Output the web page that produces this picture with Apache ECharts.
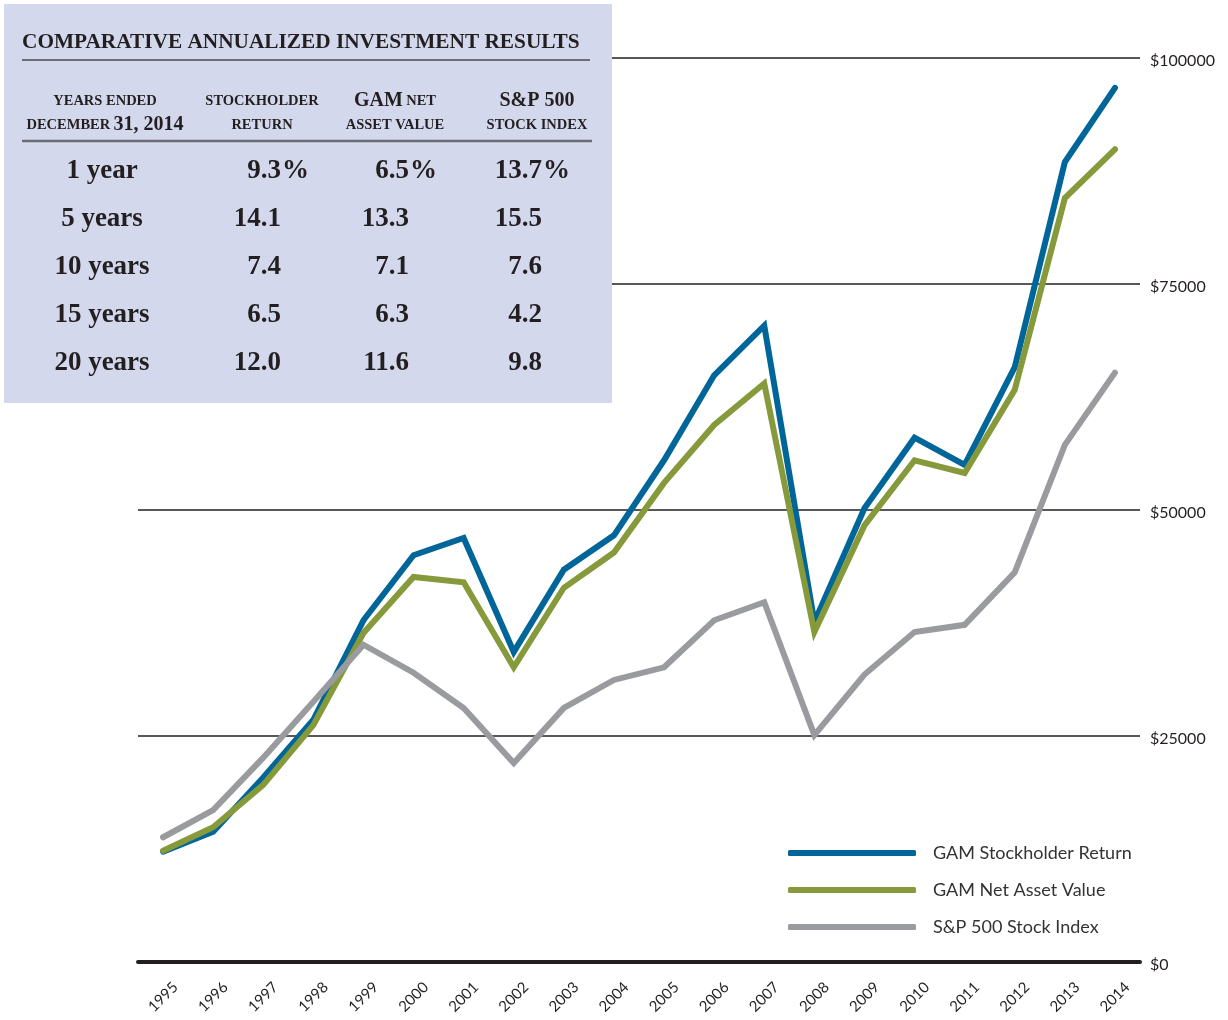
<!DOCTYPE html>
<html>
<head>
<meta charset="utf-8">
<script src="https://cdn.jsdelivr.net/npm/echarts@6/dist/echarts.min.js"></script>
<style>
  html, body { margin: 0; padding: 0; background: #fff; }
  #chart { width: 1228px; height: 1020px; }
</style>
</head>
<body>
<div id="chart"></div>
<script>
// 年份
var years = ['1995', '1996', '1997', '1998', '1999', '2000', '2001', '2002', '2003', '2004',
  '2005', '2006', '2007', '2008', '2009', '2010', '2011', '2012', '2013', '2014']
// GAM Stockholder Return
var stockholder = [12200, 14400, 20400, 26800, 37800, 45000, 46900, 34300, 43400, 47200,
  55500, 64900, 70400, 37600, 50200, 58000, 55000, 65800, 88500, 96700]
// GAM Net Asset Value
var netAsset = [12300, 14900, 19600, 26200, 36400, 42600, 42000, 32600, 41400, 45300,
  53000, 59400, 64000, 36500, 48300, 55500, 54100, 63300, 84500, 89900]
// S&P 500
var spIndex = [13800, 16800, 22600, 28800, 35100, 32000, 28100, 22000, 28100, 31200,
  32600, 37800, 39800, 25100, 31800, 36500, 37300, 43100, 57200, 65200]
var seriesNames = ['GAM Stockholder Return', 'GAM Net Asset Value', 'S&P 500 Stock Index']

// 表格
var tableTitle = 'COMPARATIVE ANNUALIZED INVESTMENT RESULTS'
var headerTop = ['{s|YEARS ENDED}', '{s|STOCKHOLDER}', '{b|GAM} {s|NET}', '{b|S&P 500}']
var headerBottom = ['{s|DECEMBER} {b|31, 2014}', '{s|RETURN}', '{s|ASSET VALUE}', '{s|STOCK INDEX}']
var periods = ['1 year', '5 years', '10 years', '15 years', '20 years']
var stockholderRet = [9.3, 14.1, 7.4, 6.5, 12.0]
var navRet = [6.5, 13.3, 7.1, 6.3, 11.6]
var spRet = [13.7, 15.5, 7.6, 4.2, 9.8]

var myChart = echarts.init(document.getElementById('chart'))

var serif = '"Liberation Serif", "DejaVu Serif", serif'
var sans = 'Lato, "Open Sans", sans-serif'
var headerCx = [105, 262, 395, 537]
var valueRight = [281, 409, 542]
var rowY = [171, 219, 267, 315, 363]

var graphics = [
  { type: 'rect', shape: { x: 4, y: 4, width: 608, height: 399 }, style: { fill: '#d3d8ed' }, z: 100 },
  { type: 'text', x: 22, y: 42, z: 101,
    style: { text: tableTitle, font: 'bold 21.3px ' + serif, fill: '#231f20', textVerticalAlign: 'middle' } },
  { type: 'line', z: 101, shape: { x1: 22, y1: 60, x2: 590, y2: 60 }, style: { stroke: '#4a4a4f', lineWidth: 1.5 } },
  { type: 'line', z: 101, shape: { x1: 22, y1: 141, x2: 592, y2: 141 }, style: { stroke: '#6b6b75', lineWidth: 2.5 } }
]
var rich = {
  s: { fontFamily: serif, fontSize: 14.5, fontWeight: 'bold', fill: '#231f20' },
  b: { fontFamily: serif, fontSize: 20, fontWeight: 'bold', fill: '#231f20' }
}
for (var i = 0; i < 4; i++) {
  graphics.push({ type: 'text', x: headerCx[i], y: 101, z: 101,
    style: { text: headerTop[i], rich: rich, textAlign: 'center', textVerticalAlign: 'middle' } })
  graphics.push({ type: 'text', x: headerCx[i], y: 125, z: 101,
    style: { text: headerBottom[i], rich: rich, textAlign: 'center', textVerticalAlign: 'middle' } })
}
var cols = [stockholderRet, navRet, spRet]
var rowFont = 'bold 27px ' + serif
for (var r = 0; r < periods.length; r++) {
  graphics.push({ type: 'text', x: 102, y: rowY[r], z: 101,
    style: { text: periods[r], font: rowFont, fill: '#231f20', textAlign: 'center', textVerticalAlign: 'middle' } })
  for (var c = 0; c < 3; c++) {
    graphics.push({ type: 'text', x: valueRight[c], y: rowY[r], z: 101,
      style: { text: cols[c][r].toFixed(1), font: rowFont, fill: '#231f20', textAlign: 'right', textVerticalAlign: 'middle' } })
    if (r === 0) {
      graphics.push({ type: 'text', x: valueRight[c] + 1, y: rowY[r], z: 101,
        style: { text: '%', font: rowFont, fill: '#231f20', textAlign: 'left', textVerticalAlign: 'middle' } })
    }
  }
}

var option = {
  animation: false,
  color: ['#006699', '#869a3c', '#9a9b9f'],
  grid: {
    left: 138,
    right: 88,
    top: 58,
    bottom: 58
  },
  legend: {
    orient: 'vertical',
    left: 783,
    top: 839,
    icon: 'roundRect',
    itemWidth: 128,
    itemHeight: 6,
    itemGap: 19,
    data: seriesNames,
    textStyle: {
      fontFamily: sans,
      fontSize: 18,
      color: '#333',
      padding: [0, 0, 0, 12]
    }
  },
  xAxis: {
    type: 'category',
    data: years,
    boundaryGap: true,
    axisLine: {
      show: true,
      lineStyle: { color: '#231f20', width: 4 }
    },
    axisTick: { show: false },
    axisLabel: {
      rotate: 45,
      interval: 0,
      align: 'center',
      verticalAlign: 'middle',
      margin: 35,
      fontSize: 15,
      color: '#231f20',
      fontFamily: sans
    }
  },
  yAxis: {
    type: 'value',
    position: 'right',
    min: 0,
    max: 100000,
    interval: 25000,
    axisLine: { show: false },
    axisTick: { show: false },
    axisLabel: {
      margin: 10,
      fontSize: 16,
      color: '#231f20',
      fontFamily: sans,
      verticalAlign: 'top',
      lineHeight: 6,
      formatter: function (v) { return '$' + v }
    },
    splitLine: {
      show: true,
      lineStyle: { color: '#231f20', width: 1.5 }
    }
  },
  series: [
    {
      name: seriesNames[0],
      type: 'line',
      data: stockholder,
      showSymbol: false,
      symbol: 'none',
      lineStyle: { width: 6, cap: 'round', join: 'miter' },
      z: 2
    },
    {
      name: seriesNames[1],
      type: 'line',
      data: netAsset,
      showSymbol: false,
      symbol: 'none',
      lineStyle: { width: 6, cap: 'round', join: 'miter' },
      z: 3
    },
    {
      name: seriesNames[2],
      type: 'line',
      data: spIndex,
      showSymbol: false,
      symbol: 'none',
      lineStyle: { width: 6, cap: 'round', join: 'miter' },
      z: 4
    }
  ],
  graphic: graphics
}

option && myChart.setOption(option)
</script>
</body>
</html>
